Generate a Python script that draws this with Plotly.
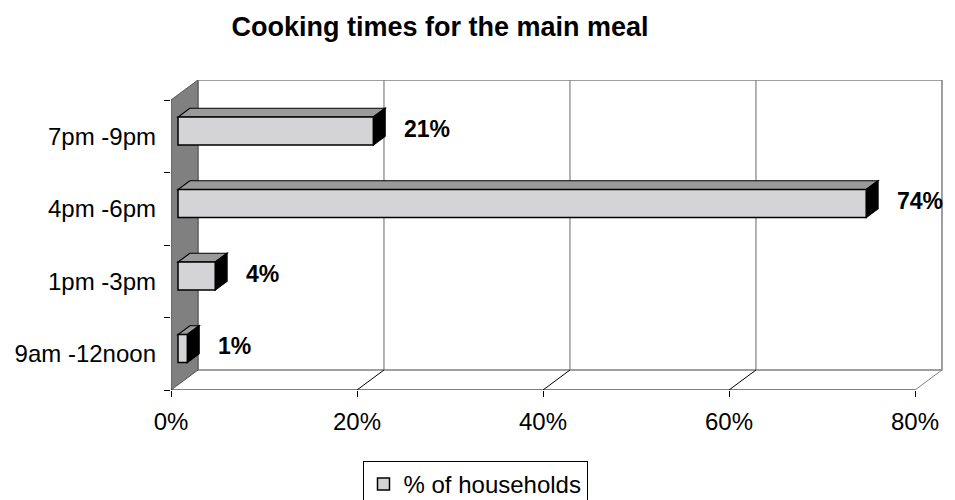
import plotly.graph_objects as go

# ---- data ----
categories = ["9am -12noon", "1pm -3pm", "4pm -6pm", "7pm -9pm"]
values = [1, 4, 74, 21]
x_tickvals = [0, 20, 40, 60, 80]
x_ticktext = ["0%", "20%", "40%", "60%", "80%"]
series_name = "% of households"
title_text = "Cooking times for the main meal"

FONT = "Liberation Sans, Arial, sans-serif"

# ---- 3D geometry (axis units) ----
DX = 2.90      # depth offset along x (percent units)
DY = 0.276     # depth offset along y (category units)
F1, F2 = 0.26, 0.70   # front / back depth fractions of the bars
BAR_W = 0.386
XMAX = 80

ypos = list(range(len(categories)))
base = F1 * DX
yshift = F1 * DY
ddx = (F2 - F1) * DX
ddy = (F2 - F1) * DY

fig = go.Figure()

shapes = []
# back wall
shapes.append(dict(type="rect", xref="x", yref="y", x0=DX, x1=XMAX + DX,
                   y0=-0.5 + DY, y1=3.5 + DY, line=dict(color="#808080", width=1.5),
                   fillcolor="white", layer="below"))
# back wall gridlines
for v in x_tickvals[1:-1]:
    shapes.append(dict(type="line", xref="x", yref="y", x0=v + DX, x1=v + DX,
                       y0=-0.5 + DY, y1=3.5 + DY, line=dict(color="#808080", width=1.2),
                       layer="below"))
# floor diagonals
for v in x_tickvals[1:]:
    shapes.append(dict(type="line", xref="x", yref="y", x0=v, x1=v + DX,
                       y0=-0.5, y1=-0.5 + DY,
                       line=dict(color="#808080" if v == XMAX else "black", width=1),
                       layer="below"))
# left wall
shapes.append(dict(type="path", xref="x", yref="y",
                   path=f"M 0,-0.5 L 0,3.5 L {DX},{3.5 + DY} L {DX},{-0.5 + DY} Z",
                   fillcolor="#808080", line=dict(color="#555555", width=1), layer="below"))
# front axis line
shapes.append(dict(type="line", xref="x", yref="y", x0=0, x1=XMAX, y0=-0.5, y1=-0.5,
                   line=dict(color="black", width=1.2), layer="below"))

# bar top and end faces
for y, v in zip(ypos, values):
    y0 = y - BAR_W / 2 + yshift
    y1 = y + BAR_W / 2 + yshift
    xe = base + v
    shapes.append(dict(type="path", xref="x", yref="y",
                       path=f"M {base},{y1} L {xe},{y1} L {xe + ddx},{y1 + ddy} L {base + ddx},{y1 + ddy} Z",
                       fillcolor="#9a9a9a", line=dict(color="black", width=1.2), layer="below"))
    shapes.append(dict(type="path", xref="x", yref="y",
                       path=f"M {xe},{y0} L {xe},{y1} L {xe + ddx},{y1 + ddy} L {xe + ddx},{y0 + ddy} Z",
                       fillcolor="black", line=dict(color="black", width=1.2), layer="below"))

# bar front faces
fig.add_trace(go.Bar(
    y=ypos, x=values, base=base, orientation="h",
    width=BAR_W, offset=-BAR_W / 2 + yshift,
    marker=dict(color="#d4d4d6", line=dict(color="black", width=1.5)),
    name=series_name, showlegend=True, hoverinfo="skip",
))

# data labels
fig.add_trace(go.Scatter(
    x=[base + v + 3.3 for v in values], y=[y + yshift for y in ypos],
    mode="text", text=[f"{v}%" for v in values], textposition="middle right",
    textfont=dict(family=FONT, size=23, color="black", weight="bold"),
    showlegend=False, hoverinfo="skip", cliponaxis=False,
))

fig.update_layout(
    width=955, height=500,
    margin=dict(l=170.5, r=5, t=80, b=110, autoexpand=False),
    paper_bgcolor="white", plot_bgcolor="rgba(0,0,0,0)",
    font=dict(family=FONT, size=24, color="black"),
    title=dict(text=title_text, x=440 / 955, xref="container", xanchor="center",
               y=1 - 27 / 500, yref="container", yanchor="middle",
               font=dict(family=FONT, size=27, color="black", weight="bold")),
    shapes=shapes,
    showlegend=True,
    legend=dict(x=(362 - 170.5) / 779, y=(390 - 461) / 310, xanchor="left", yanchor="top",
                bordercolor="black", borderwidth=1, bgcolor="white",
                font=dict(family=FONT, size=24, color="black")),
    xaxis=dict(range=[0, 779 / 9.3], tickvals=x_tickvals, ticktext=x_ticktext,
               ticks="outside", ticklen=6, tickcolor="black", ticklabelstandoff=4,
               showgrid=False, zeroline=False, showline=False, fixedrange=True),
    yaxis=dict(range=[-0.5, 3.776], tickvals=ypos, ticktext=categories, ticks="",
               ticklabelstandoff=14, showgrid=False, zeroline=False, showline=False,
               minor=dict(tickvals=[-0.5, 0.5, 1.5, 2.5, 3.5], ticks="outside",
                          ticklen=6, tickcolor="black", showgrid=False),
               fixedrange=True),
)

fig.write_html("out.html")
